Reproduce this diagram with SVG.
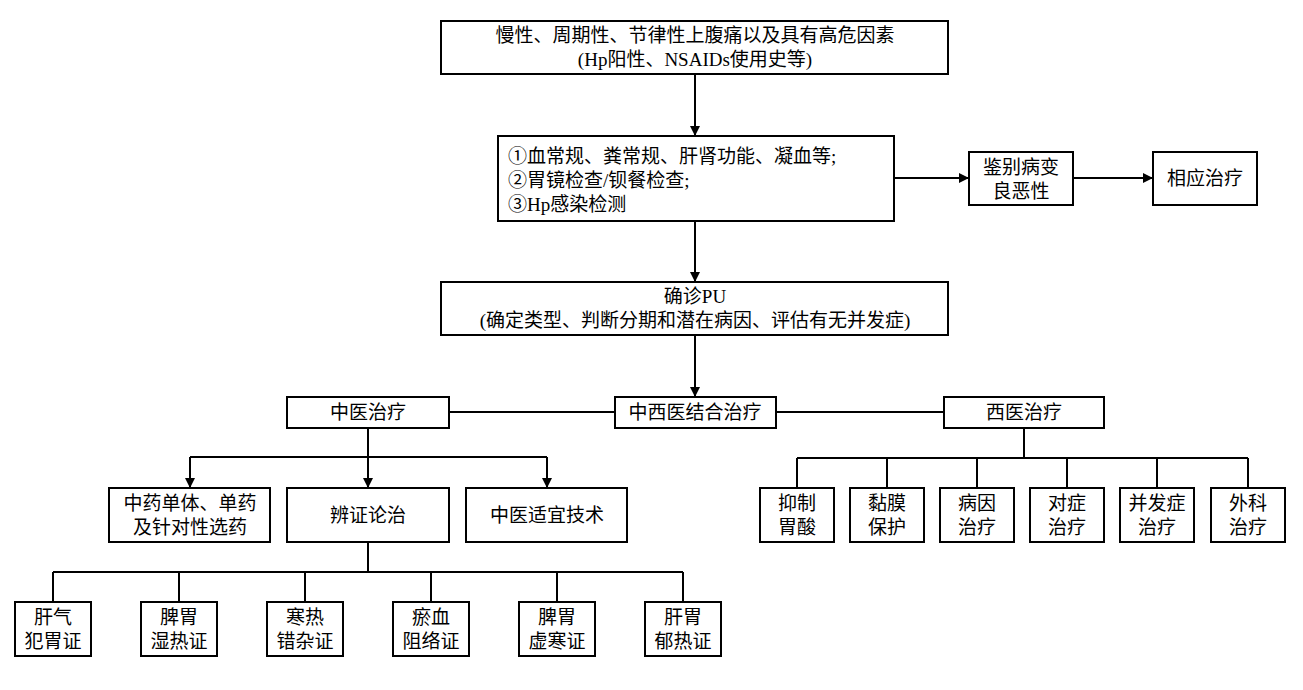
<svg xmlns="http://www.w3.org/2000/svg" width="1303" height="690" viewBox="0 0 1303 690">
<style>
rect{fill:#fff;stroke:#000;stroke-width:2}
text{font-family:"Liberation Serif","Noto Sans CJK SC",serif;font-size:19px;text-anchor:middle;fill:#000}
.l{text-anchor:start}
#conn path{fill:none;stroke:#000;stroke-width:2}
</style>
<defs><marker id="a" markerWidth="10" markerHeight="10" refX="9" refY="5" orient="auto" markerUnits="userSpaceOnUse"><path d="M0,0L10,5L0,10z" fill="#000"/></marker></defs>
<rect width="1303" height="690" style="fill:#fff;stroke:none"/>
<g id="conn">
<path d="M695,74V135" marker-end="url(#a)"/>
<path d="M695,221V281" marker-end="url(#a)"/>
<path d="M695,335V396" marker-end="url(#a)"/>
<path d="M894,178H968" marker-end="url(#a)"/>
<path d="M1073,178H1152" marker-end="url(#a)"/>
<path d="M449,412H615M776,412H944"/>
<path d="M368,428V457M190,457H547"/>
<path d="M190,457V487" marker-end="url(#a)"/>
<path d="M368,457V487" marker-end="url(#a)"/>
<path d="M547,457V487" marker-end="url(#a)"/>
<path d="M368,542V572M53,572H683M53,572V602M179,572V602M305,572V602M431,572V602M557,572V602M683,572V602"/>
<path d="M1024,428V458M797,458H1248M797,458V488M887,458V488M977,458V488M1067,458V488M1157,458V488M1248,458V488"/>
</g>
<g id="n1"><rect x="441" y="21" width="507" height="53"/><text x="695" y="42">慢性、周期性、节律性上腹痛以及具有高危因素</text><text x="695" y="66">(Hp阳性、NSAIDs使用史等)</text></g>
<g id="n2"><rect x="498" y="136" width="396" height="85"/><text class="l" x="508" y="163">①血常规、粪常规、肝肾功能、凝血等;</text><text class="l" x="508" y="187">②胃镜检查/钡餐检查;</text><text class="l" x="508" y="211">③Hp感染检测</text></g>
<g id="n3"><rect x="969" y="152" width="104" height="53"/><text x="1021" y="174">鉴别病变</text><text x="1021" y="198">良恶性</text></g>
<g id="n4"><rect x="1153" y="152" width="104" height="53"/><text x="1205" y="185">相应治疗</text></g>
<g id="n5"><rect x="441" y="282" width="507" height="53"/><text x="695" y="303">确诊PU</text><text x="695" y="327">(确定类型、判断分期和潜在病因、评估有无并发症)</text></g>
<g id="n6"><rect x="615" y="397" width="161" height="31"/><text x="695" y="419">中西医结合治疗</text></g>
<g id="n7"><rect x="287" y="397" width="162" height="31"/><text x="368" y="419">中医治疗</text></g>
<g id="n8"><rect x="944" y="397" width="160" height="31"/><text x="1024" y="419">西医治疗</text></g>
<g id="n9"><rect x="109" y="488" width="161" height="54"/><text x="190" y="510">中药单体、单药</text><text x="190" y="534">及针对性选药</text></g>
<g id="n10"><rect x="287" y="488" width="162" height="54"/><text x="368" y="522">辨证论治</text></g>
<g id="n11"><rect x="466" y="488" width="161" height="54"/><text x="547" y="522">中医适宜技术</text></g>
<g id="b1"><rect x="15" y="602" width="76" height="54"/><text x="53" y="624">肝气</text><text x="53" y="648">犯胃证</text></g>
<g id="b2"><rect x="141" y="602" width="76" height="54"/><text x="179" y="624">脾胃</text><text x="179" y="648">湿热证</text></g>
<g id="b3"><rect x="267" y="602" width="76" height="54"/><text x="305" y="624">寒热</text><text x="305" y="648">错杂证</text></g>
<g id="b4"><rect x="393" y="602" width="76" height="54"/><text x="431" y="624">瘀血</text><text x="431" y="648">阻络证</text></g>
<g id="b5"><rect x="519" y="602" width="76" height="54"/><text x="557" y="624">脾胃</text><text x="557" y="648">虚寒证</text></g>
<g id="b6"><rect x="645" y="602" width="76" height="54"/><text x="683" y="624">肝胃</text><text x="683" y="648">郁热证</text></g>
<g id="w1"><rect x="760" y="488" width="74" height="54"/><text x="797" y="510">抑制</text><text x="797" y="534">胃酸</text></g>
<g id="w2"><rect x="850" y="488" width="74" height="54"/><text x="887" y="510">黏膜</text><text x="887" y="534">保护</text></g>
<g id="w3"><rect x="940" y="488" width="74" height="54"/><text x="977" y="510">病因</text><text x="977" y="534">治疗</text></g>
<g id="w4"><rect x="1030" y="488" width="74" height="54"/><text x="1067" y="510">对症</text><text x="1067" y="534">治疗</text></g>
<g id="w5"><rect x="1120" y="488" width="74" height="54"/><text x="1157" y="510">并发症</text><text x="1157" y="534">治疗</text></g>
<g id="w6"><rect x="1211" y="488" width="74" height="54"/><text x="1248" y="510">外科</text><text x="1248" y="534">治疗</text></g>
</svg>
